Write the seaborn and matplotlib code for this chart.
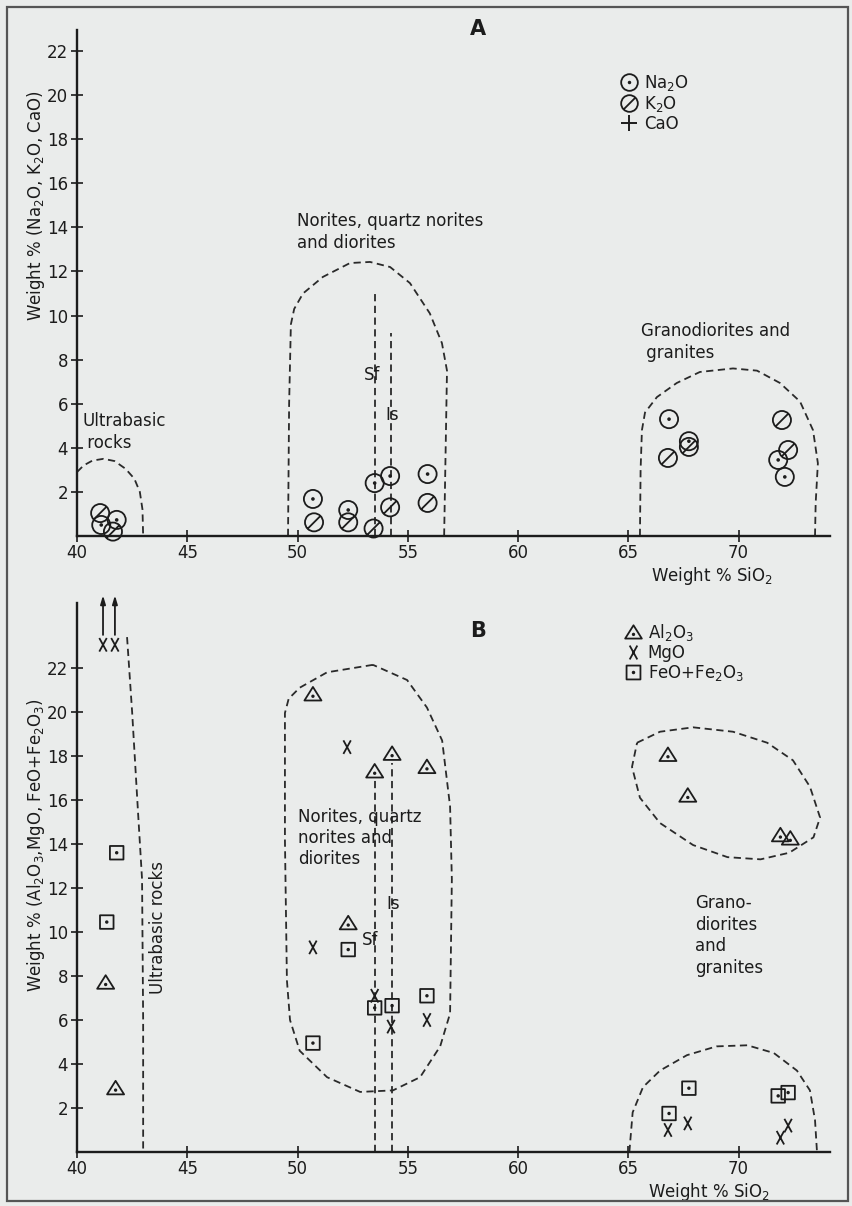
import numpy as np
import matplotlib
matplotlib.use("Agg")
import matplotlib.pyplot as plt
import seaborn as sns
from matplotlib.path import Path
from matplotlib.lines import Line2D
from matplotlib.patches import Rectangle

# ---------------- Panel A: Na2O, K2O, CaO vs SiO2 ----------------
na2o_sio2 = [41.8, 41.1, 50.7, 52.3, 53.5, 54.2, 55.9, 66.85, 67.75, 71.8, 72.1]
na2o = [0.73, 0.5, 1.68, 1.18, 2.4, 2.72, 2.81, 5.3, 4.3, 3.45, 2.68]
k2o_sio2 = [41.05, 41.63, 50.75, 52.3, 53.45, 54.2, 55.9, 66.8, 67.75, 71.97, 72.25]
k2o = [1.04, 0.2, 0.62, 0.62, 0.34, 1.3, 1.5, 3.54, 4.04, 5.26, 3.9]
cao_sio2 = [41.27, 41.6, 50.7, 52.25, 53.47, 54.24, 55.87, 66.8, 67.75, 71.97, 72.4]
cao = [2.18, 1.54, 10.3, 6.08, 11.43, 9.48, 8.3, 2.9, 2.45, 1.5, 2.72]

# dashed field outlines, panel A
ultra_a_x = [40.0, 40.3, 40.7, 41.2, 41.7, 42.2, 42.6, 42.85, 42.97, 43.0]
ultra_a_y = [2.9, 3.2, 3.42, 3.5, 3.4, 3.05, 2.6, 2.0, 1.2, 0.0]
norite_a_x = [49.57, 49.62, 49.7, 49.85, 50.25, 51.15, 52.38, 53.29, 54.2, 55.1, 56.0, 56.55, 56.78, 56.72, 56.65]
norite_a_y = [0.0, 6.0, 9.6, 10.3, 11.0, 11.75, 12.38, 12.43, 12.2, 11.47, 10.1, 8.75, 7.5, 4.0, 0.0]
grano_a_x = [65.53, 65.56, 65.62, 65.76, 66.3, 67.2, 68.25, 69.75, 70.84, 71.88, 72.79, 73.38, 73.6, 73.5, 73.47]
grano_a_y = [0.0, 3.0, 4.8, 5.6, 6.3, 6.94, 7.44, 7.6, 7.5, 6.94, 6.1, 4.8, 3.3, 1.5, 0.0]
sf_a = (53.5, 11.15)
is_a = (54.24, 9.2)

# ---------------- Panel B: Al2O3, MgO, FeO+Fe2O3 vs SiO2 ----------------
al2o3_sio2 = [41.3, 41.75, 50.7, 52.3, 53.5, 54.29, 55.87, 66.8, 67.7, 71.9, 72.35]
al2o3 = [7.7, 2.9, 20.8, 10.4, 17.3, 18.1, 17.5, 18.05, 16.2, 14.4, 14.25]
mgo_sio2 = [41.18, 41.72, 50.7, 52.25, 53.5, 54.24, 55.87, 66.8, 67.7, 71.9, 72.25]
mgo = [23.05, 23.05, 9.3, 18.4, 7.1, 5.7, 6.0, 1.0, 1.3, 0.65, 1.2]
feo_sio2 = [41.8, 41.35, 50.7, 52.3, 53.5, 54.29, 55.87, 67.75, 66.85, 71.8, 72.25]
feo = [13.6, 10.45, 4.95, 9.2, 6.55, 6.65, 7.1, 2.9, 1.75, 2.55, 2.7]

ultra_b_x = [42.27, 42.5, 42.77, 42.95, 43.0, 43.0]
ultra_b_y = [23.4, 20.0, 15.4, 12.4, 6.0, 0.0]
norite_b_x = [53.42, 51.34, 50.1, 49.6, 49.43, 49.43, 49.52, 49.66, 50.1, 51.34, 52.84, 54.33,
              55.56, 56.47, 56.92, 57.0, 56.92, 56.56, 55.87, 54.97, 53.42]
norite_b_y = [22.14, 21.8, 21.1, 20.6, 19.95, 14.2, 7.8, 6.0, 4.6, 3.4, 2.73, 2.8,
              3.4, 4.8, 6.3, 12.4, 15.7, 18.7, 20.2, 21.45, 22.14]
grano_b1_x = [65.4, 66.44, 67.94, 69.75, 71.3, 72.47, 73.24, 73.7, 73.4, 72.3, 71.0, 69.5,
              67.94, 66.44, 65.53, 65.17, 65.4]
grano_b1_y = [18.6, 19.1, 19.3, 19.1, 18.6, 17.8, 16.6, 15.2, 14.3, 13.6, 13.3, 13.4,
              13.95, 14.95, 16.1, 17.5, 18.6]
grano_b2_x = [65.05, 65.2, 65.67, 66.44, 67.66, 69.0, 70.4, 71.6, 72.65, 73.24, 73.47, 73.56]
grano_b2_y = [0.0, 1.8, 2.95, 3.7, 4.4, 4.8, 4.85, 4.5, 3.7, 2.8, 1.45, 0.0]
sf_b = (53.5, 16.9)
is_b = (54.29, 17.7)

# ---------------- style ----------------
BG = "#eaeceb"
INK = "#1c1c1c"
sns.set_style("ticks")
plt.rcParams["font.family"] = ["DejaVu Sans"]
plt.rcParams["mathtext.default"] = "regular"
plt.rcParams["text.color"] = INK
plt.rcParams["axes.labelcolor"] = INK
plt.rcParams["xtick.color"] = INK
plt.rcParams["ytick.color"] = INK

DASH = (0, (4, 2.5))
FS = 12


def compound(*paths):
    return Path.make_compound_path(*paths)


def small_circle(cx, cy, r):
    c = Path.unit_circle()
    return Path(c.vertices * r + np.array([cx, cy]), c.codes)


M_NA = compound(Path.unit_circle(), small_circle(0, 0, 0.1))
M_K = compound(Path.unit_circle(), Path([(-0.72, -0.72), (0.72, 0.72)], [Path.MOVETO, Path.LINETO]))
M_X = compound(Path([(-0.55, -1), (0.55, 1)], [Path.MOVETO, Path.LINETO]),
               Path([(-0.55, 1), (0.55, -1)], [Path.MOVETO, Path.LINETO]))
M_TRI = compound(Path([(0, 0.95), (-1.1, -0.8), (1.1, -0.8), (0, 0.95)],
                      [Path.MOVETO, Path.LINETO, Path.LINETO, Path.CLOSEPOLY]),
                 small_circle(0, -0.25, 0.1))
M_SQ = compound(Path([(-1, -1), (1, -1), (1, 1), (-1, 1), (-1, -1)],
                     [Path.MOVETO, Path.LINETO, Path.LINETO, Path.LINETO, Path.CLOSEPOLY]),
                small_circle(0, 0, 0.12))

fig = plt.figure(figsize=(8.52, 12.06), dpi=100)
fig.patch.set_facecolor(BG)
fig.patches.append(Rectangle((7 / 852, 5 / 1206), 841 / 852, 1194 / 1206, transform=fig.transFigure,
                             fill=False, edgecolor="#555555", linewidth=1.6))

axA = fig.add_axes([77 / 852, 1 - 536 / 1206, 753 / 852, 506 / 1206])
axB = fig.add_axes([77 / 852, 1 - 1152 / 1206, 753 / 852, 549 / 1206])


def style_axes(ax, ytop):
    ax.set_facecolor(BG)
    ax.set_xlim(40, 40 + 753 / 22.05)
    ax.set_ylim(0, ytop)
    for s in ["top", "right"]:
        ax.spines[s].set_visible(False)
    for s in ["left", "bottom"]:
        ax.spines[s].set_linewidth(1.7)
        ax.spines[s].set_color(INK)
    ax.set_xticks(np.arange(40, 71, 5))
    ax.set_yticks(np.arange(2, 23, 2))
    ax.tick_params(direction="inout", length=9, width=1.2, labelsize=12, pad=2)
    ax.tick_params(axis="x", pad=1)


def scatter(ax, x, y, marker, s, lw=1.3):
    sns.scatterplot(x=x, y=y, marker=marker, s=s, facecolor="none", edgecolor=INK,
                    linewidth=lw, ax=ax, zorder=3, clip_on=False, legend=False)


def field(ax, x, y):
    ax.plot(x, y, color="#2a2a2a", lw=1.3, ls=DASH, clip_on=False)


# ---------------- Panel A ----------------
style_axes(axA, 22.95)
for fx, fy in [(ultra_a_x, ultra_a_y), (norite_a_x, norite_a_y), (grano_a_x, grano_a_y)]:
    field(axA, fx, fy)
for lx, ly in [sf_a, is_a]:
    field(axA, [lx, lx], [0, ly])

scatter(axA, na2o_sio2, na2o, M_NA, 170)
scatter(axA, k2o_sio2, k2o, M_K, 170)
scatter(axA, cao_sio2, cao, "+", 110, lw=1.4)

axA.text(58.19, 23.0, "A", fontsize=15, fontweight="bold", ha="center", va="center")
axA.text(49.98, 13.8, "Norites, quartz norites\nand diorites", fontsize=FS,
         ha="left", va="center", linespacing=1.3)
axA.text(40.23, 4.7, "Ultrabasic\n rocks", fontsize=FS, ha="left", va="center", linespacing=1.3)
axA.text(65.6, 8.8, "Granodiorites and\n granites", fontsize=FS, ha="left", va="center", linespacing=1.3)
axA.text(53.38, 7.3, "Sf", fontsize=FS, ha="center", va="center")
axA.text(54.3, 5.5, "Is", fontsize=FS, ha="center", va="center")

axA.set_xlabel("Weight % SiO$_2$", fontsize=FS)
axA.xaxis.set_label_coords(0.843, -0.058)
axA.set_ylabel("Weight % (Na$_2$O, K$_2$O, CaO)", fontsize=FS, va="center")
axA.yaxis.set_label_coords(-0.054, 0.652)

hA = [Line2D([], [], ls="none", marker=M_NA, ms=12, mfc="none", mec=INK, mew=1.3),
      Line2D([], [], ls="none", marker=M_K, ms=12, mfc="none", mec=INK, mew=1.3),
      Line2D([], [], ls="none", marker="+", ms=12, mec=INK, mew=1.4)]
axA.legend(hA, ["Na$_2$O", "K$_2$O", "CaO"], loc="upper left", bbox_to_anchor=(0.722, 0.915),
           frameon=False, fontsize=FS, handlelength=1.0, handletextpad=0.4,
           labelspacing=0.05, borderpad=0, borderaxespad=0)

# ---------------- Panel B ----------------
style_axes(axB, 24.95)
for fx, fy in [(ultra_b_x, ultra_b_y), (norite_b_x, norite_b_y),
               (grano_b1_x, grano_b1_y), (grano_b2_x, grano_b2_y)]:
    field(axB, fx, fy)
for lx, ly in [sf_b, is_b]:
    field(axB, [lx, lx], [0, ly])

scatter(axB, al2o3_sio2, al2o3, M_TRI, 150)
scatter(axB, mgo_sio2, mgo, M_X, 95)
scatter(axB, feo_sio2, feo, M_SQ, 95)

# off-scale MgO values of the ultrabasic rocks
for xv, yv in zip(mgo_sio2, mgo):
    if yv > 22.5:
        axB.annotate("", xy=(xv, 25.3), xytext=(xv, yv + 0.45), annotation_clip=False,
                     arrowprops=dict(arrowstyle="-|>,head_length=0.5,head_width=0.15",
                                     color=INK, lw=1.3, shrinkA=0, shrinkB=0))

axB.text(58.19, 23.7, "B", fontsize=15, fontweight="bold", ha="center", va="center")
axB.text(50.02, 14.27, "Norites, quartz\nnorites and\ndiorites", fontsize=FS,
         ha="left", va="center", linespacing=1.2)
axB.text(43.67, 10.2, "Ultrabasic rocks", fontsize=FS, rotation=90, ha="center", va="center")
axB.text(68.03, 9.84, "Grano-\ndiorites\nand\ngranites", fontsize=FS,
         ha="left", va="center", linespacing=1.25)
axB.text(53.29, 9.64, "Sf", fontsize=FS, ha="center", va="center")
axB.text(54.33, 11.27, "Is", fontsize=FS, ha="center", va="center")

axB.set_xlabel("Weight % SiO$_2$", fontsize=FS)
axB.xaxis.set_label_coords(0.839, -0.053)
axB.set_ylabel("Weight % (Al$_2$O$_3$,MgO, FeO+Fe$_2$O$_3$)", fontsize=FS, va="center")
axB.yaxis.set_label_coords(-0.054, 0.559)

hB = [Line2D([], [], ls="none", marker=M_TRI, ms=12, mfc="none", mec=INK, mew=1.3),
      Line2D([], [], ls="none", marker=M_X, ms=10, mfc="none", mec=INK, mew=1.3),
      Line2D([], [], ls="none", marker=M_SQ, ms=10, mfc="none", mec=INK, mew=1.3)]
axB.legend(hB, ["Al$_2$O$_3$", "MgO", "FeO+Fe$_2$O$_3$"], loc="upper left",
           bbox_to_anchor=(0.727, 0.965), frameon=False, fontsize=FS, handlelength=1.0,
           handletextpad=0.4, labelspacing=0.05, borderpad=0, borderaxespad=0)

fig.savefig("out.png", dpi=100, facecolor=BG)
